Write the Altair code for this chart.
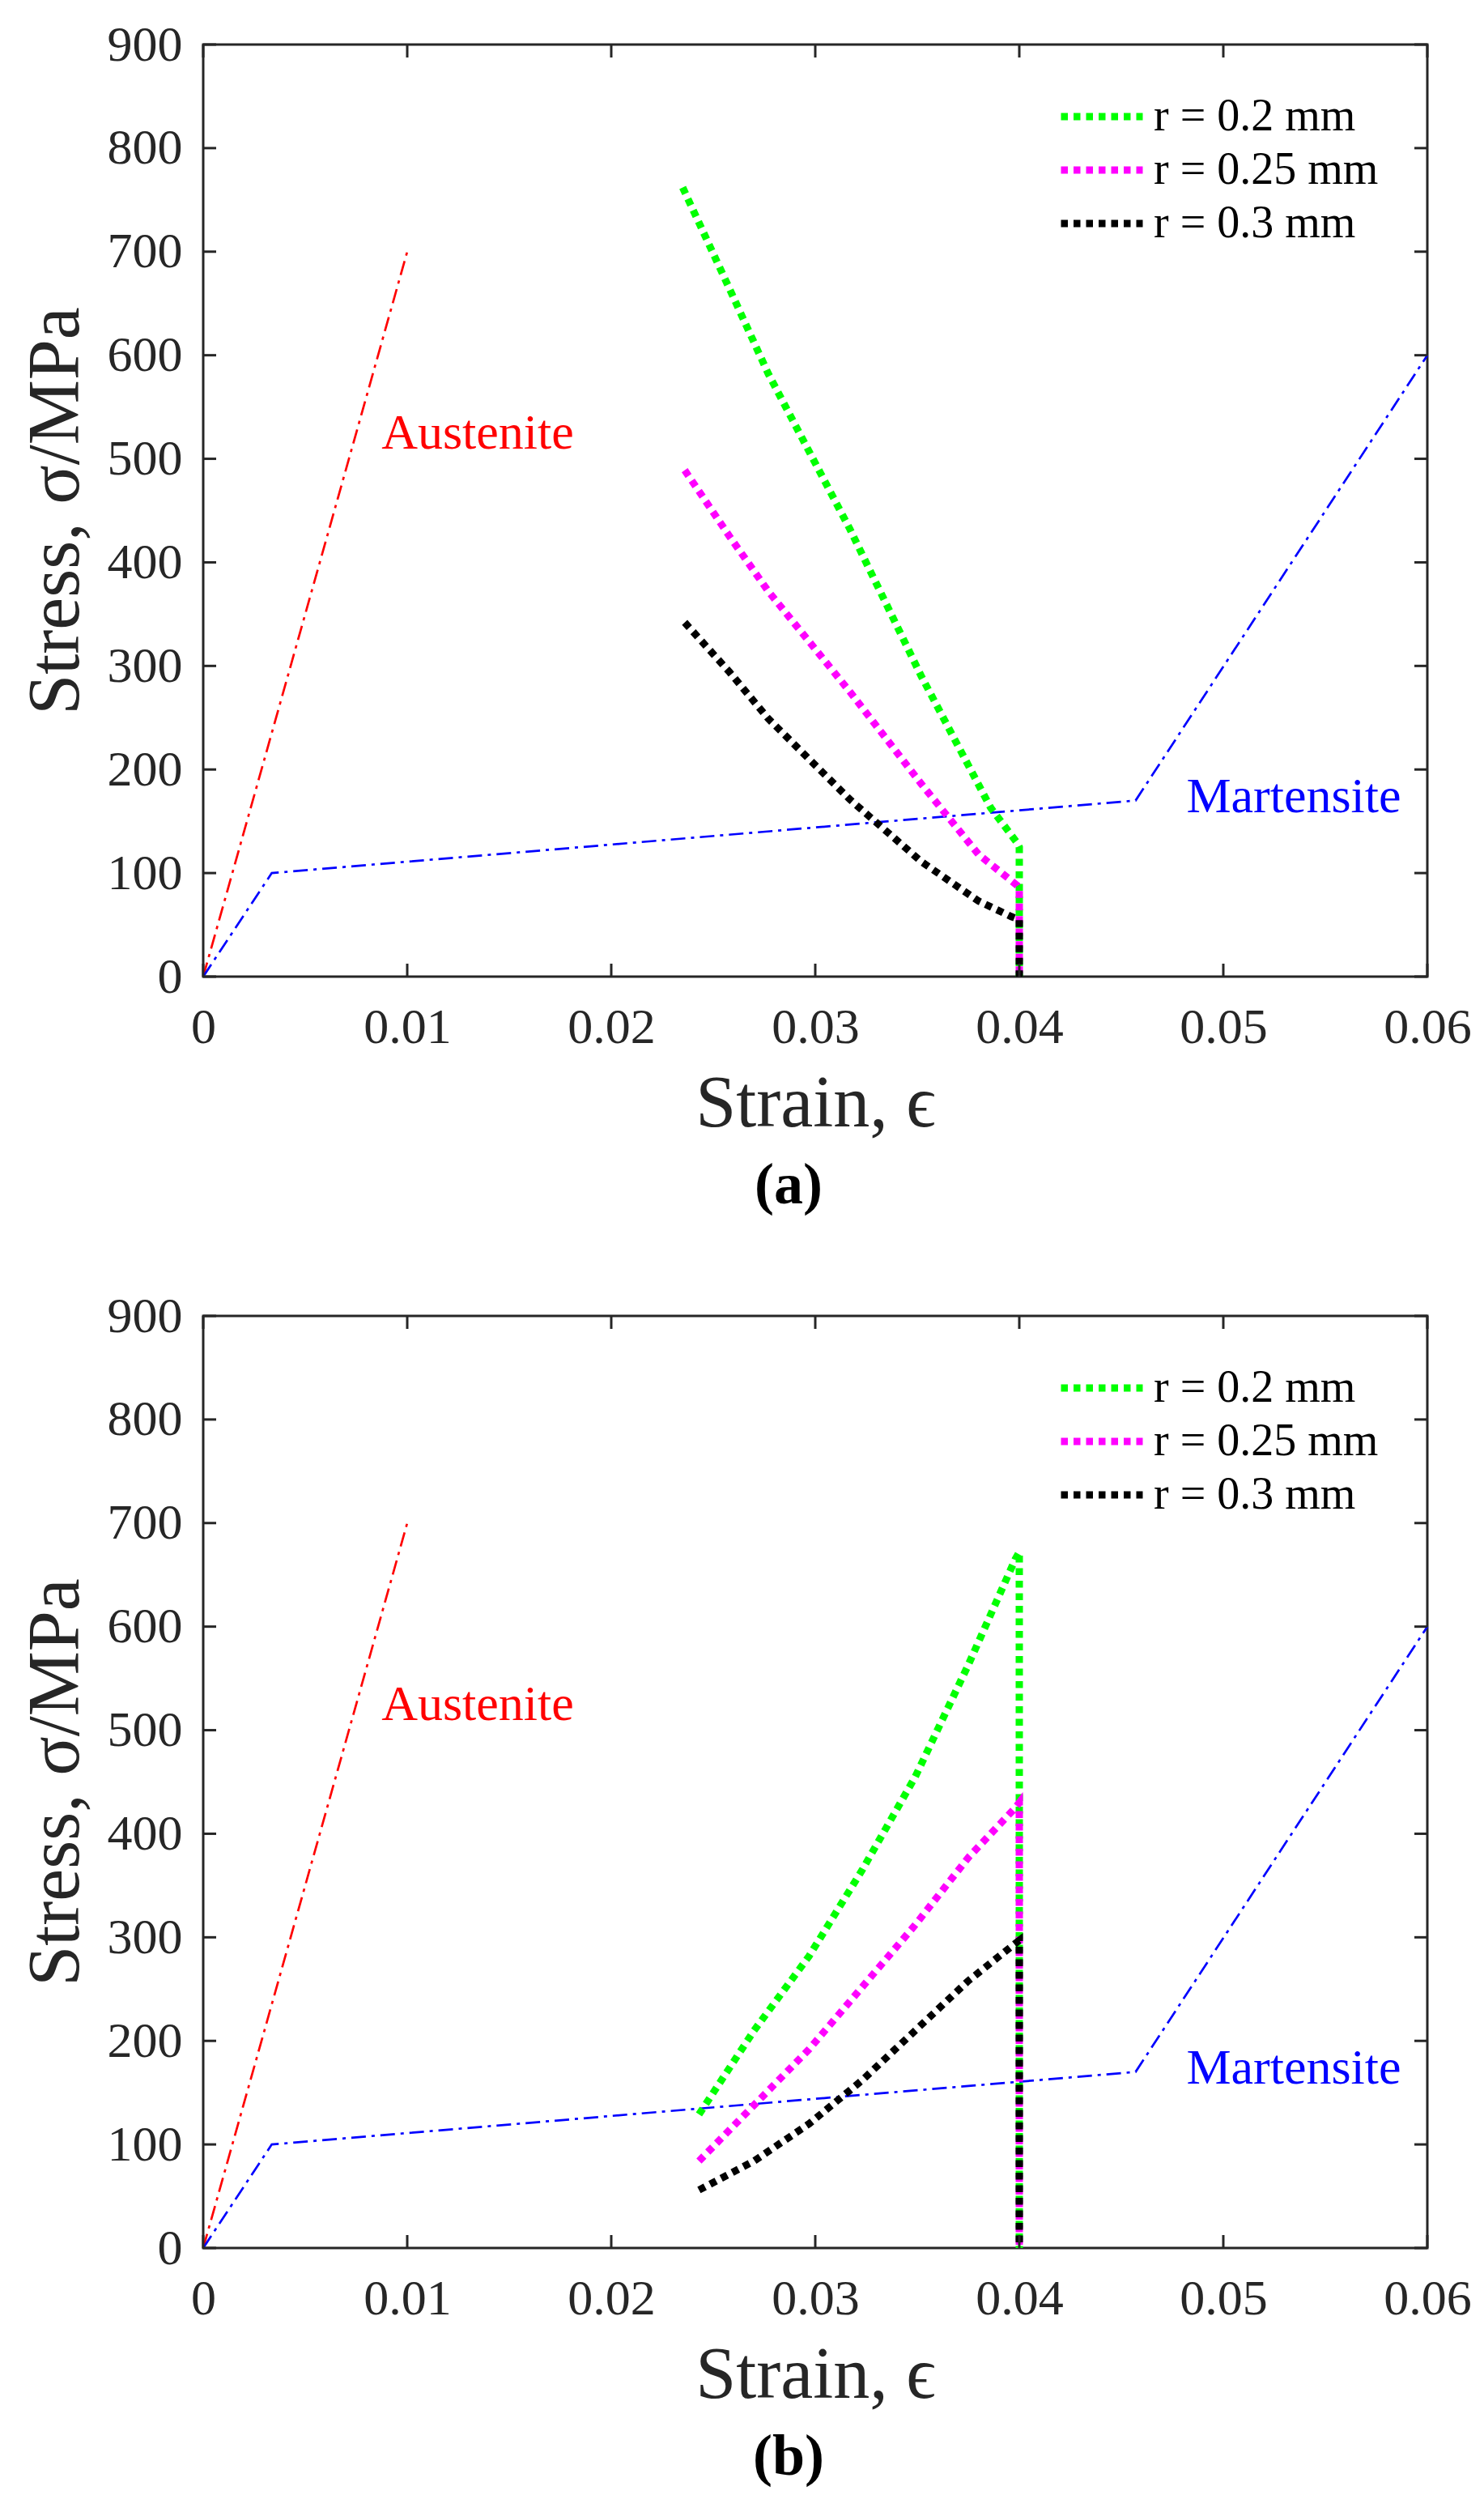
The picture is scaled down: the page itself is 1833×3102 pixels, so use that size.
import altair as alt
import pandas as pd

FONT = "Liberation Serif"
AXIS_COLOR = "#262626"

strain_ticks = [0, 0.01, 0.02, 0.03, 0.04, 0.05, 0.06]
stress_ticks = [0, 100, 200, 300, 400, 500, 600, 700, 800, 900]

series_names = ["r = 0.2 mm", "r = 0.25 mm", "r = 0.3 mm"]
series_colors = ["#00FF00", "#FF00FF", "#000000"]

# reference curves, same in both panels
austenite_x = [0.0, 0.01]
austenite_y = [0, 700]
martensite_x = [0.0, 0.00336, 0.0457, 0.06]
martensite_y = [0, 100, 170, 600]

label_names = ["Austenite", "Martensite"]
label_colors = ["#FF0000", "#0000FF"]
label_x = [0.01345, 0.05345]
label_y = [510, 159]

# panel (a)
a_r020_x = [0.0235, 0.0258, 0.0277, 0.0317, 0.0352, 0.0386, 0.0399, 0.0400, 0.0400]
a_r020_y = [762, 664, 582, 432, 290, 163, 129, 125, 0]
a_r025_x = [0.0236, 0.0258, 0.0277, 0.0317, 0.0352, 0.0380, 0.0399, 0.0400, 0.0400]
a_r025_y = [489, 425, 372, 275, 186, 118, 88, 85, 0]
a_r030_x = [0.0236, 0.0258, 0.0277, 0.0317, 0.0352, 0.0380, 0.0396, 0.0400, 0.0400]
a_r030_y = [342, 294, 249, 171, 111, 73, 58, 55, 0]

# panel (b)
b_r020_x = [0.0243, 0.0270, 0.0297, 0.0323, 0.0349, 0.0375, 0.0398, 0.0400, 0.0400]
b_r020_y = [129, 210, 282, 365, 455, 563, 665, 672, 0]
b_r025_x = [0.0243, 0.0270, 0.0297, 0.0323, 0.0349, 0.0375, 0.0398, 0.0400, 0.0400]
b_r025_y = [84, 138, 192, 252, 312, 377, 425, 430, 0]
b_r030_x = [0.0243, 0.0270, 0.0297, 0.0323, 0.0349, 0.0375, 0.0398, 0.0400, 0.0400]
b_r030_y = [56, 84, 120, 162, 210, 258, 294, 297, 0]

W, H = 1512, 1151
TICK = 16

X = alt.X(
    "strain:Q",
    scale=alt.Scale(domain=[0, 0.06], nice=False, zero=False),
    axis=alt.Axis(
        values=strain_ticks, format=".2~f", ticks=False, tickSize=0, domain=False, grid=False,
        labelPadding=32, labelFontSize=62, labelFont=FONT, labelColor=AXIS_COLOR,
        labelFlush=False, labelOverlap=False,
        titleFont=FONT, titleFontSize=90, titleFontWeight="normal", titleColor=AXIS_COLOR,
        titlePadding=20,
    ),
    title="Strain, ϵ",
)
Y = alt.Y(
    "stress:Q",
    scale=alt.Scale(domain=[0, 900], nice=False),
    axis=alt.Axis(
        values=stress_ticks, format="d", ticks=False, tickSize=0, domain=False, grid=False,
        labelPadding=26, labelFontSize=62, labelFont=FONT, labelColor=AXIS_COLOR,
        labelFlush=False, labelOverlap=False,
        titleFont=FONT, titleFontSize=90, titleFontWeight="normal", titleColor=AXIS_COLOR,
        titlePadding=17,
    ),
    title="Stress, σ/MPa",
)


def curve_frame(xs, ys, name):
    return pd.DataFrame({"strain": xs, "stress": ys, "series": name, "idx": range(len(xs))})


def panel(curves, tag):
    ref = pd.concat([
        curve_frame(austenite_x, austenite_y, "Austenite"),
        curve_frame(martensite_x, martensite_y, "Martensite"),
    ])
    layers = []
    for name, color in zip(label_names, label_colors):
        layers.append(
            alt.Chart(ref[ref.series == name]).mark_line(
                color=color, strokeWidth=2.7, strokeDash=[18, 7, 4, 7]
            ).encode(x=X, y=Y, order="idx:Q")
        )

    rdf = pd.concat([curve_frame(xs, ys, n) for (xs, ys), n in zip(curves, series_names)])
    layers.append(
        alt.Chart(rdf).mark_line(strokeWidth=9, strokeDash=[8.5, 7], strokeCap="butt").encode(
            x=X, y=Y, order="idx:Q",
            color=alt.Color(
                "series:N",
                scale=alt.Scale(domain=series_names, range=series_colors),
                legend=alt.Legend(
                    title=None, orient="none", legendX=1055, legendY=57,
                    symbolType="stroke", symbolSize=10201, symbolStrokeWidth=9,
                    symbolDash=[8.5, 7], labelFont=FONT, labelFontSize=56,
                    labelColor="#000000", labelOffset=9, labelLimit=0,
                    padding=0, rowPadding=2, clipHeight=64,
                ),
            ),
        )
    )

    for name, color, lx, ly in zip(label_names, label_colors, label_x, label_y):
        lab = pd.DataFrame({"strain": [lx], "stress": [ly], "text": [name]})
        layers.append(
            alt.Chart(lab).mark_text(
                font=FONT, fontSize=62, color=color, align="center", baseline="alphabetic"
            ).encode(x=X, y=Y, text="text:N")
        )

    # inward ticks on all four sides
    xt = pd.DataFrame({"strain": strain_ticks})
    yt = pd.DataFrame({"stress": stress_ticks})
    rule = dict(color=AXIS_COLOR, strokeWidth=3)
    layers += [
        alt.Chart(xt).mark_rule(**rule).encode(x=X, y=alt.value(H), y2=alt.value(H - TICK)),
        alt.Chart(xt).mark_rule(**rule).encode(x=X, y=alt.value(0), y2=alt.value(TICK)),
        alt.Chart(yt).mark_rule(**rule).encode(y=Y, x=alt.value(0), x2=alt.value(TICK)),
        alt.Chart(yt).mark_rule(**rule).encode(y=Y, x=alt.value(W), x2=alt.value(W - TICK)),
    ]

    return alt.layer(*layers).properties(
        width=W, height=H,
        title=alt.TitleParams(
            tag, orient="bottom", anchor="middle", frame="group", dx=-33, offset=21,
            font=FONT, fontSize=72, fontWeight="bold", color="#000000",
        ),
    )


top = panel([(a_r020_x, a_r020_y), (a_r025_x, a_r025_y), (a_r030_x, a_r030_y)], "(a)")
bottom = panel([(b_r020_x, b_r020_y), (b_r025_x, b_r025_y), (b_r030_x, b_r030_y)], "(b)")

chart = alt.vconcat(top, bottom, spacing=90).resolve_legend(color="independent").properties(
    padding={"left": 14, "top": 14, "right": 5, "bottom": 5},
    background="white",
).configure_view(
    stroke=AXIS_COLOR, strokeWidth=3
)

chart.save("out.html", embed_options={"renderer": "svg", "actions": False})
